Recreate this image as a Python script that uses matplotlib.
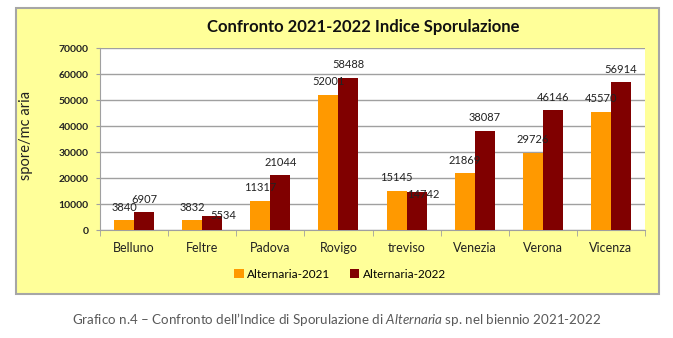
import numpy as np
import matplotlib.pyplot as plt
from matplotlib.patches import Rectangle

plt.rcParams['font.family'] = ['Lato', 'DejaVu Sans']
plt.rcParams['mathtext.fontset'] = 'custom'
plt.rcParams['mathtext.rm'] = 'Lato'
plt.rcParams['mathtext.it'] = 'Lato:italic'

cities = ['Belluno', 'Feltre', 'Padova', 'Rovigo', 'treviso', 'Venezia', 'Verona', 'Vicenza']
alt_2021 = [3840, 3832, 11317, 52001, 15145, 21869, 29726, 45570]
alt_2022 = [6907, 5534, 21044, 58488, 14742, 38087, 46146, 56914]
yticks = [0, 10000, 20000, 30000, 40000, 50000, 60000, 70000]

# label nudges in pixels (dx, dy) where the default would overlap
nudge_2021 = {}
nudge_2022 = {1: (11, 0), 4: (7, -3)}

fig = plt.figure(figsize=(6.73, 3.38), dpi=100)
fig.patch.set_facecolor('white')

# yellow chart frame
fig.patches.append(Rectangle((16 / 673, 1 - 294 / 338), 643 / 673, 286 / 338,
                             transform=fig.transFigure, facecolor='#FFFF99',
                             edgecolor='#A6A6A6', linewidth=1.5, zorder=0))

ax = fig.add_axes([100 / 673, 1 - 230 / 338, 545 / 673, 182 / 338])
ax.set_zorder(2)
ax.set_facecolor('white')

x = np.arange(len(cities))
w = 0.294
b1 = ax.bar(x - w / 2, alt_2021, w, color='#FF9900', label='Alternaria-2021', zorder=3)
b2 = ax.bar(x + w / 2, alt_2022, w, color='#800000', label='Alternaria-2022', zorder=3)

for i, (bar, v) in enumerate(zip(b1, alt_2021)):
    dx, dy = nudge_2021.get(i, (0, 13))
    ax.annotate(str(v), (bar.get_x() + bar.get_width() / 2, v), xytext=(dx, dy),
                textcoords='offset pixels', ha='center', va='center',
                fontsize=8, color='#222222', zorder=5, annotation_clip=False)
for i, (bar, v) in enumerate(zip(b2, alt_2022)):
    dx, dy = nudge_2022.get(i, (0, 13))
    ax.annotate(str(v), (bar.get_x() + bar.get_width() / 2, v), xytext=(dx, dy),
                textcoords='offset pixels', ha='center', va='center',
                fontsize=8, color='#222222', zorder=5, annotation_clip=False)

ax.set_xlim(-0.5, len(cities) - 0.5)
ax.set_ylim(0, 70000)
ax.set_yticks(yticks)
ax.set_yticklabels([str(t) for t in yticks], fontsize=7.5, fontweight='bold', color='#222222')
ax.yaxis.grid(True, color='#A0A0A0', linewidth=1, zorder=0)
ax.set_axisbelow(True)
ax.tick_params(axis='y', length=3, color='#A0A0A0', pad=5)

ax.set_xticks(x)
ax.set_xticklabels(cities, fontsize=9, color='#222222')
ax.set_xticks(np.arange(len(cities) + 1) - 0.5, minor=True)
ax.tick_params(axis='x', which='major', length=0, pad=9)
ax.tick_params(axis='x', which='minor', length=4, color='#A0A0A0')

for side in ['top', 'right']:
    ax.spines[side].set_visible(False)
for side in ['left', 'bottom']:
    ax.spines[side].set_color('#A0A0A0')

ax.set_ylabel('spore/mc aria', fontsize=10.5, color='#222222')
ax.yaxis.set_label_coords(-67 / 545, 95 / 182)

fig.text(363 / 673, 1 - 27 / 338, 'Confronto 2021-2022 Indice Sporulazione',
         ha='center', va='center', fontsize=12, fontweight='bold', color='#111111')

fig.legend(handles=[b1, b2], loc='center', bbox_to_anchor=(340 / 673, 1 - 274 / 338),
           ncol=2, frameon=False, fontsize=8.5, handlelength=0.8, handleheight=0.8,
           handletextpad=0.3, columnspacing=1.6)

fig.text(0.5, 1 - 320 / 338,
         'Grafico n.4 \u2013 Confronto dell\u2019Indice di Sporulazione di $\\it{Alternaria}$ sp. nel biennio 2021-2022',
         ha='center', va='center', fontsize=9.6, color='#595959')

fig.savefig('out.png', dpi=100)
